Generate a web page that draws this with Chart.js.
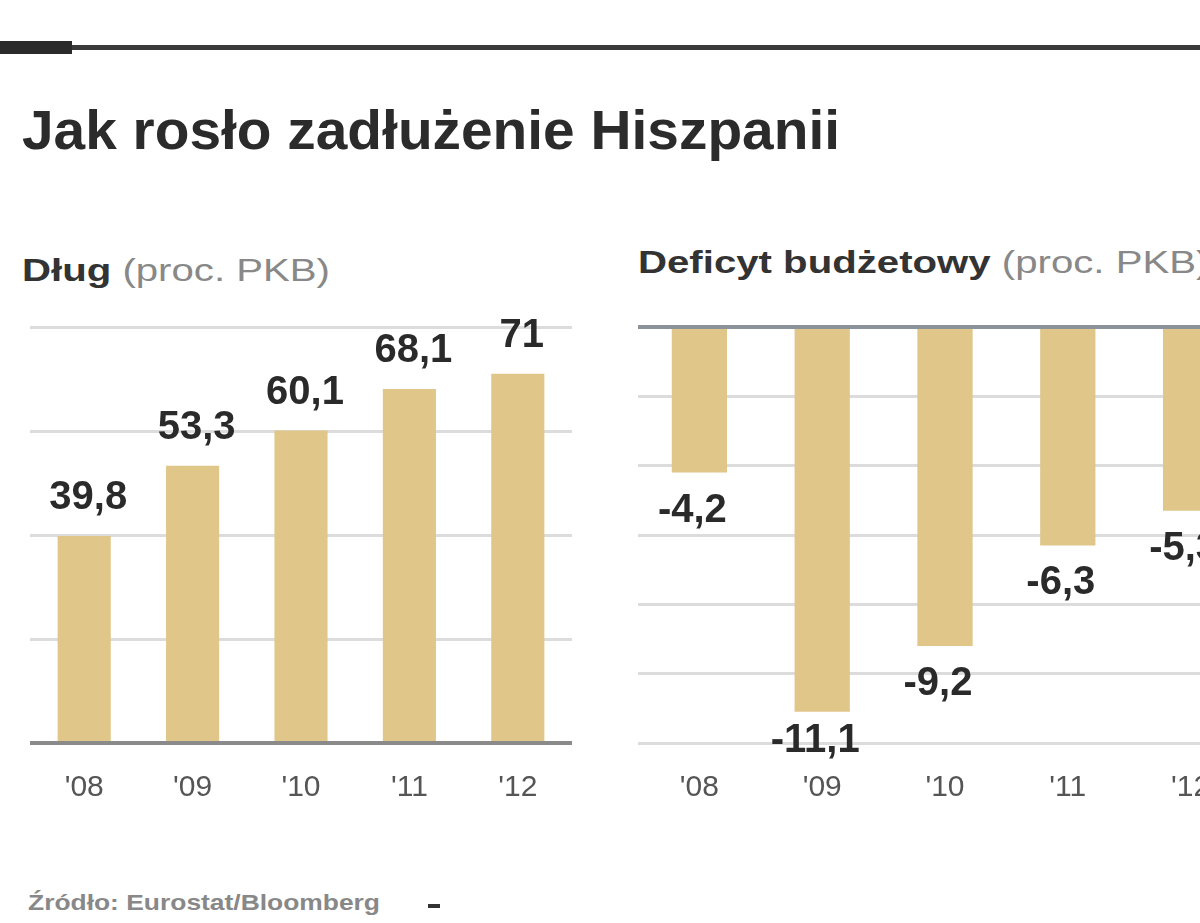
<!DOCTYPE html>
<html><head><meta charset="utf-8">
<script src="https://cdn.jsdelivr.net/npm/chart.js@4/dist/chart.umd.min.js"></script>
<style>
html,body{margin:0;padding:0;width:1200px;height:923px;overflow:hidden;background:#fff;}
body{position:relative;font-family:"Liberation Sans",Arial,sans-serif;}
#rule{position:absolute;left:0;top:45px;width:1200px;height:5px;background:#3a3a3a;}
#ruleblock{position:absolute;left:0;top:41px;width:72px;height:13px;background:#2a2a2a;}
.t{position:absolute;white-space:nowrap;transform-origin:0 50%;}
#title{left:22px;top:100px;font-size:56px;font-weight:bold;color:#2b2b2b;line-height:60px;}
#sub1{left:22px;top:252px;font-size:32px;line-height:36px;}
#sub2{left:638px;top:244px;font-size:32px;line-height:36px;}
.b{font-weight:bold;color:#333;}
.n{color:#888;}
#src{left:28px;top:890px;font-size:22px;line-height:26px;color:#888;font-weight:bold;}
#logo{position:absolute;left:428px;top:904px;width:12px;height:4px;background:#333;}
#c1wrap{position:absolute;left:0;top:300px;width:610px;height:548px;}
#c2wrap{position:absolute;left:600px;top:300px;width:660px;height:548px;}
</style></head>
<body>
<div id="rule"></div><div id="ruleblock"></div>
<div id="title" class="t">Jak rosło zadłużenie Hiszpanii</div>
<div id="sub1" class="t"><span class="b">Dług</span> <span class="n">(proc. PKB)</span></div>
<div id="sub2" class="t"><span class="b">Deficyt budżetowy</span> <span class="n">(proc. PKB)</span></div>
<div id="src" class="t">Źródło: Eurostat/Bloomberg</div><div id="logo"></div>
<div id="c1wrap"><canvas id="c1"></canvas></div>
<div id="c2wrap"><canvas id="c2"></canvas></div>
<script>
const years = ["'08", "'09", "'10", "'11", "'12"];
const debt = [39.8, 53.3, 60.1, 68.1, 71];
const deficit = [-4.2, -11.1, -9.2, -6.3, -5.3];
const debtTicks = [0, 20, 40, 60, 80];
const deficitTicks = [0, -2, -4, -6, -8, -10, -12];

(function(){
  const t=document.getElementById('title');
  const w=t.getBoundingClientRect().width;
  t.style.transform='scaleX('+(818/w)+')';
  const s1=document.getElementById('sub1');
  const w1=s1.getBoundingClientRect().width;
  const k=308/w1;
  s1.style.transform='scaleX('+k+')';
  document.getElementById('sub2').style.transform='scaleX('+k+')';
  const sr=document.getElementById('src');
  sr.style.transform='scaleX('+(352/sr.getBoundingClientRect().width)+')';
})();

const BAR='#e0c689';
const fmt=v=>String(v).replace('.',',');
const valPlugin={
  id:'vals',
  afterDatasetsDraw(chart,args,opts){
    const ctx=chart.ctx, meta=chart.getDatasetMeta(0), data=chart.data.datasets[0].data;
    ctx.save();
    ctx.font='bold 40px "Liberation Sans", Arial, sans-serif';
    ctx.fillStyle='#2a2a2a';ctx.textAlign='center';ctx.textBaseline='middle';
    meta.data.forEach((bar,i)=>{
      const v=data[i];
      const y=v>=0?bar.y-opts.offset:Math.min(bar.y+opts.offset,chart.chartArea.bottom-2);
      ctx.fillText(fmt(v),bar.x+opts.dx,y);
    });
    ctx.restore();
  }
};

function makeChart(id,data,min,max,ticks,pad,barPct,dx,zeroTop){
  return new Chart(document.getElementById(id),{
    type:'bar',
    data:{labels:years,datasets:[{data:data,backgroundColor:BAR,borderWidth:0,barPercentage:barPct,categoryPercentage:1}]},
    options:{
      responsive:true,maintainAspectRatio:false,animation:false,
      layout:{padding:pad},
      plugins:{legend:{display:false},tooltip:{enabled:false},vals:{offset:38,dx:dx}},
      scales:{
        x:{grid:{display:false,drawTicks:false},border:{display:false},
           ticks:{color:'#555',padding:30,font:{size:30,family:'"Liberation Sans", Arial, sans-serif',lineHeight:1}}},
        y:{min:min,max:max,
           afterBuildTicks:s=>{s.ticks=ticks.map(v=>({value:v}));},
           ticks:{display:false},border:{display:false},
           grid:{drawTicks:false,
             color:c=>c.tick.value===0?(zeroTop?'#8c929a':'#8a8a8a'):'#dcdcdc',
             lineWidth:c=>c.tick.value===0?4:3}}
      }
    },
    plugins:[valPlugin]
  });
}
makeChart('c1',debt,0,80,debtTicks,{left:30,right:38,top:27,bottom:15},0.49,4,false);
makeChart('c2',deficit,-12,0,deficitTicks,{left:38,right:8,top:27,bottom:15},0.45,-7,true);
</script>
</body></html>
